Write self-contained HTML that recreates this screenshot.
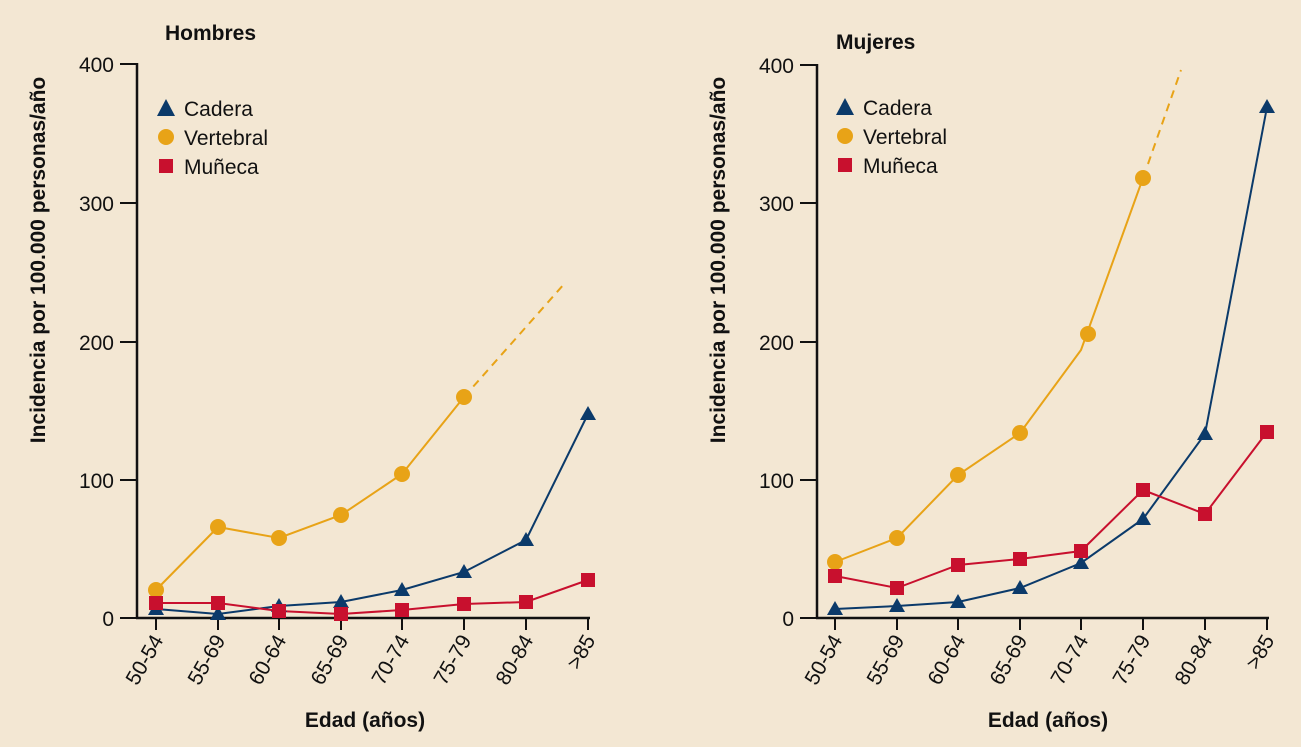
<!DOCTYPE html>
<html><head><meta charset="utf-8"><style>
body{margin:0;background:#f3e7d3;}
svg{display:block;font-family:"Liberation Sans Narrow","Liberation Sans",sans-serif;}
.t{font-size:21px;fill:#111;}
.b{font-weight:bold;font-size:21px;fill:#111;}
</style></head><body>
<svg width="1301" height="747" viewBox="0 0 1301 747">
<rect width="1301" height="747" fill="#f3e7d3"/>
<defs>
<symbol id="tri" viewBox="-9 -9 18 18" overflow="visible"><polygon points="0,-8 8,7 -8,7" fill="#0b3a6a"/></symbol>
</defs>
<g id="L">
<text class="b" x="165" y="40">Hombres</text>
<g stroke="#111" stroke-width="2.5" fill="none">
<line x1="137" y1="63" x2="137" y2="619"/>
<line x1="136" y1="618" x2="590" y2="618"/>
</g>
<g stroke="#111" stroke-width="2">
<line x1="120" y1="64" x2="137" y2="64"/><line x1="120" y1="203" x2="137" y2="203"/><line x1="120" y1="342" x2="137" y2="342"/><line x1="120" y1="480" x2="137" y2="480"/><line x1="120" y1="618" x2="137" y2="618"/>
<line x1="156" y1="618" x2="156" y2="630"/><line x1="218" y1="618" x2="218" y2="630"/><line x1="279" y1="618" x2="279" y2="630"/><line x1="341" y1="618" x2="341" y2="630"/><line x1="402" y1="618" x2="402" y2="630"/><line x1="464" y1="618" x2="464" y2="630"/><line x1="526" y1="618" x2="526" y2="630"/><line x1="588" y1="618" x2="588" y2="630"/>
</g>
<g class="t" text-anchor="end"><text x="114" y="72">400</text><text x="114" y="211">300</text><text x="114" y="350">200</text><text x="114" y="488">100</text><text x="114" y="626">0</text></g>
<g class="t" text-anchor="end">
<text transform="translate(164,640) rotate(-60)">50-54</text>
<text transform="translate(226,640) rotate(-60)">55-69</text>
<text transform="translate(287,640) rotate(-60)">60-64</text>
<text transform="translate(349,640) rotate(-60)">65-69</text>
<text transform="translate(410,640) rotate(-60)">70-74</text>
<text transform="translate(472,640) rotate(-60)">75-79</text>
<text transform="translate(534,640) rotate(-60)">80-84</text>
<text transform="translate(596,640) rotate(-60)">&gt;85</text>
</g>
<text class="b" x="365" y="727" text-anchor="middle">Edad (años)</text>
<text class="b" transform="translate(45,260) rotate(-90)" text-anchor="middle">Incidencia por 100.000 personas/año</text>
<polyline points="156,590 218,527 279,538 341,515 402,474 464,397" fill="none" stroke="#e8a317" stroke-width="2"/>
<line x1="464" y1="397" x2="565" y2="283" stroke="#e8a317" stroke-width="2" stroke-dasharray="8,6"/>
<polyline points="156,609 218,614 279,606 341,602 402,590 464,572 526,540 588,414" fill="none" stroke="#0b3a6a" stroke-width="2"/>
<polyline points="156,603 218,603 279,611 341,614 402,610 464,604 526,602 588,580" fill="none" stroke="#c8102e" stroke-width="2"/>
<g fill="#e8a317"><circle cx="156" cy="590" r="8"/><circle cx="218" cy="527" r="8"/><circle cx="279" cy="538" r="8"/><circle cx="341" cy="515" r="8"/><circle cx="402" cy="474" r="8"/><circle cx="464" cy="397" r="8"/></g>
<g fill="#0b3a6a"><polygon points="156,601 164,615 148,615"/><polygon points="218,606 226,620 210,620"/><polygon points="279,598 287,612 271,612"/><polygon points="341,594 349,608 333,608"/><polygon points="402,582 410,596 394,596"/><polygon points="464,564 472,578 456,578"/><polygon points="526,532 534,546 518,546"/><polygon points="588,406 596,420 580,420"/></g>
<g fill="#c8102e"><rect x="149" y="596" width="14" height="14"/><rect x="211" y="596" width="14" height="14"/><rect x="272" y="604" width="14" height="14"/><rect x="334" y="607" width="14" height="14"/><rect x="395" y="603" width="14" height="14"/><rect x="457" y="597" width="14" height="14"/><rect x="519" y="595" width="14" height="14"/><rect x="581" y="573" width="14" height="14"/></g>
<polygon points="166,99 175,116 157,116" fill="#0b3a6a"/><text class="t" x="184" y="116">Cadera</text>
<circle cx="166" cy="137" r="8" fill="#e8a317"/><text class="t" x="184" y="145">Vertebral</text>
<rect x="159" y="159" width="14" height="14" fill="#c8102e"/><text class="t" x="184" y="174">Muñeca</text>
</g>
<g id="R">
<text class="b" x="836" y="49">Mujeres</text>
<g stroke="#111" stroke-width="2.5" fill="none">
<line x1="817" y1="64" x2="817" y2="619"/>
<line x1="816" y1="618" x2="1269" y2="618"/>
</g>
<g stroke="#111" stroke-width="2">
<line x1="800" y1="65" x2="817" y2="65"/><line x1="800" y1="203" x2="817" y2="203"/><line x1="800" y1="342" x2="817" y2="342"/><line x1="800" y1="480" x2="817" y2="480"/><line x1="800" y1="618" x2="817" y2="618"/>
<line x1="835" y1="618" x2="835" y2="630"/><line x1="897" y1="618" x2="897" y2="630"/><line x1="958" y1="618" x2="958" y2="630"/><line x1="1020" y1="618" x2="1020" y2="630"/><line x1="1081" y1="618" x2="1081" y2="630"/><line x1="1143" y1="618" x2="1143" y2="630"/><line x1="1205" y1="618" x2="1205" y2="630"/><line x1="1267" y1="618" x2="1267" y2="630"/>
</g>
<g class="t" text-anchor="end"><text x="794" y="73">400</text><text x="794" y="211">300</text><text x="794" y="350">200</text><text x="794" y="488">100</text><text x="794" y="626">0</text></g>
<g class="t" text-anchor="end">
<text transform="translate(843,640) rotate(-60)">50-54</text>
<text transform="translate(905,640) rotate(-60)">55-69</text>
<text transform="translate(966,640) rotate(-60)">60-64</text>
<text transform="translate(1028,640) rotate(-60)">65-69</text>
<text transform="translate(1089,640) rotate(-60)">70-74</text>
<text transform="translate(1151,640) rotate(-60)">75-79</text>
<text transform="translate(1213,640) rotate(-60)">80-84</text>
<text transform="translate(1275,640) rotate(-60)">&gt;85</text>
</g>
<text class="b" x="1048" y="727" text-anchor="middle">Edad (años)</text>
<text class="b" transform="translate(725,260) rotate(-90)" text-anchor="middle">Incidencia por 100.000 personas/año</text>
<polyline points="835,562 897,538 958,475 1020,433 1081,350 1143,178" fill="none" stroke="#e8a317" stroke-width="2"/>
<line x1="1148" y1="164" x2="1181" y2="70" stroke="#e8a317" stroke-width="2" stroke-dasharray="8,6"/>
<polyline points="835,609 897,606 958,602 1020,588 1081,563 1143,519 1205,434 1267,107" fill="none" stroke="#0b3a6a" stroke-width="2"/>
<polyline points="835,576 897,588 958,565 1020,559 1081,551 1143,490 1205,514 1267,432" fill="none" stroke="#c8102e" stroke-width="2"/>
<g fill="#e8a317"><circle cx="835" cy="562" r="8"/><circle cx="897" cy="538" r="8"/><circle cx="958" cy="475" r="8"/><circle cx="1020" cy="433" r="8"/><circle cx="1088" cy="334" r="8"/><circle cx="1143" cy="178" r="8"/></g>
<g fill="#0b3a6a"><polygon points="835,601 843,615 827,615"/><polygon points="897,598 905,612 889,612"/><polygon points="958,594 966,608 950,608"/><polygon points="1020,580 1028,594 1012,594"/><polygon points="1081,555 1089,569 1073,569"/><polygon points="1143,511 1151,525 1135,525"/><polygon points="1205,426 1213,440 1197,440"/><polygon points="1267,99 1275,113 1259,113"/></g>
<g fill="#c8102e"><rect x="828" y="569" width="14" height="14"/><rect x="890" y="581" width="14" height="14"/><rect x="951" y="558" width="14" height="14"/><rect x="1013" y="552" width="14" height="14"/><rect x="1074" y="544" width="14" height="14"/><rect x="1136" y="483" width="14" height="14"/><rect x="1198" y="507" width="14" height="14"/><rect x="1260" y="425" width="14" height="14"/></g>
<polygon points="845,98 854,115 836,115" fill="#0b3a6a"/><text class="t" x="863" y="115">Cadera</text>
<circle cx="845" cy="136" r="8" fill="#e8a317"/><text class="t" x="863" y="144">Vertebral</text>
<rect x="838" y="158" width="14" height="14" fill="#c8102e"/><text class="t" x="863" y="173">Muñeca</text>
</g>
</svg>
</body></html>
